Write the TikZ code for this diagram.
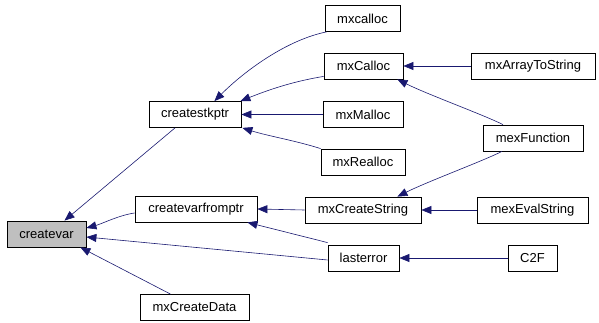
\documentclass[tikz,border=0pt]{standalone}
\usepackage{fontspec}
\setmainfont{Liberation Sans}
\usetikzlibrary{arrows.meta}
\definecolor{edgeblue}{RGB}{25,25,112}
\definecolor{hilite}{RGB}{191,191,191}
\begin{document}
\begin{tikzpicture}[x=1pt,y=-1pt,
  box/.style={draw=black, line width=0.8pt, fill=white, minimum height=26pt, inner sep=0pt, font=\fontsize{13}{14}\selectfont},
  call/.style={draw=edgeblue, line width=0.6pt, -{Triangle[length=10pt,width=8pt]}}]
\useasboundingbox (0,0) rectangle (599,323);
\node[box, fill=hilite, minimum width=79pt] (createvar) at (46.5,234) {createvar};
\node[box, minimum width=122pt] (createvarfromptr) at (196,209) {createvarfromptr};
\node[box, minimum width=109pt] (mxCreateData) at (194.5,307.5) {mxCreateData};
\node[box, minimum width=92pt] (createstkptr) at (195,114.5) {createstkptr};
\node[box, minimum width=75pt] (mxcalloc) at (362.5,18.5) {mxcalloc};
\node[box, minimum width=79pt] (mxCalloc) at (363.5,66) {mxCalloc};
\node[box, minimum width=80pt] (mxMalloc) at (363,114.5) {mxMalloc};
\node[box, minimum width=84pt] (mxRealloc) at (363,162) {mxRealloc};
\node[box, minimum width=124pt] (mxArrayToString) at (533,66) {mxArrayToString};
\node[box, minimum width=100pt] (mexFunction) at (533,138) {mexFunction};
\node[box, minimum width=116pt] (mxCreateString) at (363,210) {mxCreateString};
\node[box, minimum width=111pt] (mexEvalString) at (532.5,210) {mexEvalString};
\node[box, minimum width=71pt] (lasterror) at (363.5,258) {lasterror};
\node[box, minimum width=49pt] (C2F) at (532.5,258) {C2F};

\draw[call] ([xshift=-20pt]createstkptr.south) -- ([xshift=18pt]createvar.north);
\draw[call] ([yshift=-4pt]createvarfromptr.west) .. controls +(-15,2) and +(15,-4) .. ([yshift=6pt]createvar.east);
\draw[call] ([yshift=-2pt]lasterror.west) -- ([yshift=-3pt]createvar.east);
\draw[call] ([xshift=-24pt]mxCreateData.north) -- ([xshift=-6pt]createvar.south east);
\draw[call] ([xshift=2pt]mxcalloc.south west) .. controls +(-40,8) and +(30,-30) .. ([xshift=-27pt]createstkptr.north east);
\draw[call] ([yshift=3pt]mxCalloc.south west) .. controls +(-30,5) and +(30,-12) .. ([xshift=-1pt]createstkptr.north east);
\draw[call] (mxMalloc.west) -- (createstkptr.east);
\draw[call] (mxRealloc.north west) .. controls +(-25,-8) and +(25,8) .. ([xshift=1pt]createstkptr.south east);
\draw[call] (mxArrayToString.west) -- (mxCalloc.east);
\draw[call] ([xshift=-30pt]mexFunction.north) .. controls +(-20,-10) and +(30,15) .. ([xshift=-6pt]mxCalloc.south east);
\draw[call] ([xshift=-31pt]mexFunction.south) .. controls +(-20,10) and +(30,-15) .. ([xshift=-24pt]mxCreateString.north east);
\draw[call] (mxCreateString.west) -- (createvarfromptr.east);
\draw[call] ([yshift=2pt]lasterror.north west) -- ([xshift=-10pt]createvarfromptr.south east);
\draw[call] (mexEvalString.west) -- (mxCreateString.east);
\draw[call] (C2F.west) -- (lasterror.east);
\end{tikzpicture}
\end{document}
